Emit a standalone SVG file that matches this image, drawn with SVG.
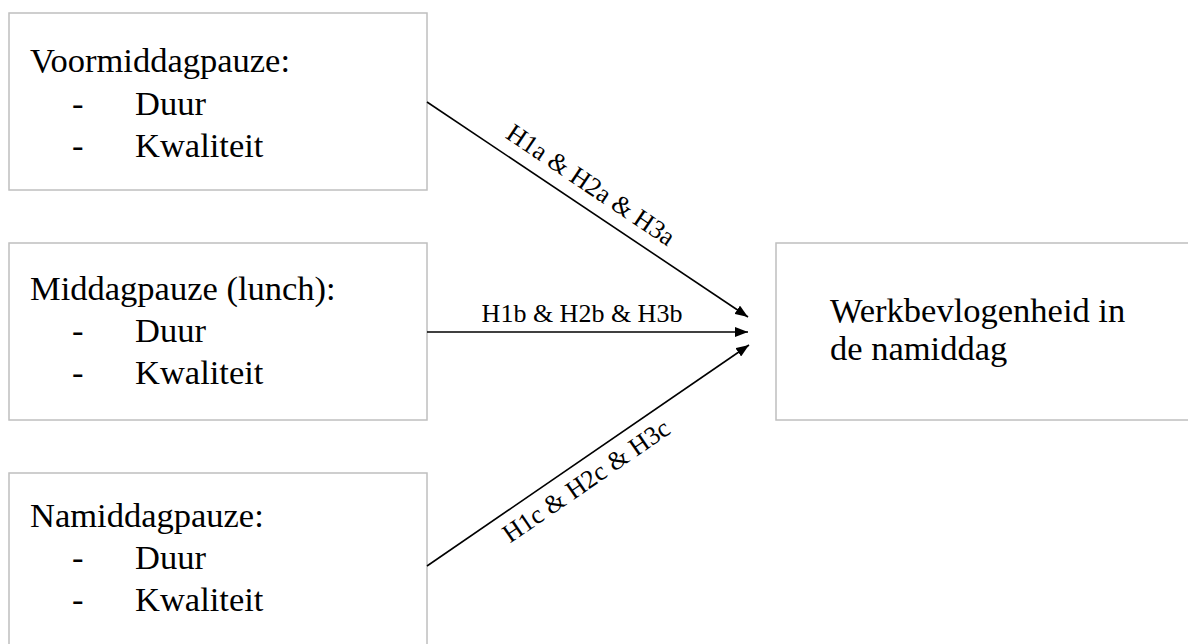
<svg xmlns="http://www.w3.org/2000/svg" width="1188" height="644" viewBox="0 0 1188 644">
<defs>
<marker id="ah" viewBox="0 0 13 10" refX="13" refY="5" markerWidth="13" markerHeight="10" markerUnits="userSpaceOnUse" orient="auto">
<path d="M0,0 L13,5 L0,10 z" fill="#000"/>
</marker>
<style>
.box{fill:#fff;stroke:#bfbfbf;stroke-width:1.5}
.t{font-family:"Liberation Serif","Times New Roman",serif;font-size:34.5px;fill:#000}
.lbl{font-family:"Liberation Serif","Times New Roman",serif;font-size:26px;fill:#000;text-anchor:middle}
.edge{stroke:#000;stroke-width:1.6;fill:none;marker-end:url(#ah)}
</style>
</defs>
<rect width="1188" height="644" fill="#fff"/>
<g id="node-voormiddag">
<rect class="box" x="9" y="13" width="418" height="177"/>
<text class="t" x="30" y="72">Voormiddagpauze:</text>
<text class="t" x="72" y="115">-</text><text class="t" x="135" y="115">Duur</text>
<text class="t" x="72" y="157">-</text><text class="t" x="135" y="157">Kwaliteit</text>
</g>
<g id="node-middag">
<rect class="box" x="9" y="243" width="418" height="177"/>
<text class="t" x="30" y="300">Middagpauze (lunch):</text>
<text class="t" x="72" y="342">-</text><text class="t" x="135" y="342">Duur</text>
<text class="t" x="72" y="384">-</text><text class="t" x="135" y="384">Kwaliteit</text>
</g>
<g id="node-namiddag">
<rect class="box" x="9" y="473" width="418" height="190"/>
<text class="t" x="30" y="527">Namiddagpauze:</text>
<text class="t" x="72" y="569">-</text><text class="t" x="135" y="569">Duur</text>
<text class="t" x="72" y="611">-</text><text class="t" x="135" y="611">Kwaliteit</text>
</g>
<g id="node-werkbevlogenheid">
<rect class="box" x="776" y="243" width="430" height="177"/>
<text class="t" x="830" y="322">Werkbevlogenheid in</text>
<text class="t" x="830" y="360">de namiddag</text>
</g>
<g id="connectors">
<line class="edge" x1="427" y1="102" x2="748" y2="317"/>
<line class="edge" x1="427" y1="332" x2="748" y2="332"/>
<line class="edge" x1="427" y1="566" x2="749" y2="345"/>
<text class="lbl" transform="translate(586,192) rotate(33.8)">H1a &amp; H2a &amp; H3a</text>
<text class="lbl" x="582" y="322">H1b &amp; H2b &amp; H3b</text>
<text class="lbl" transform="translate(591,488) rotate(-34.5)">H1c &amp; H2c &amp; H3c</text>
</g>
</svg>
